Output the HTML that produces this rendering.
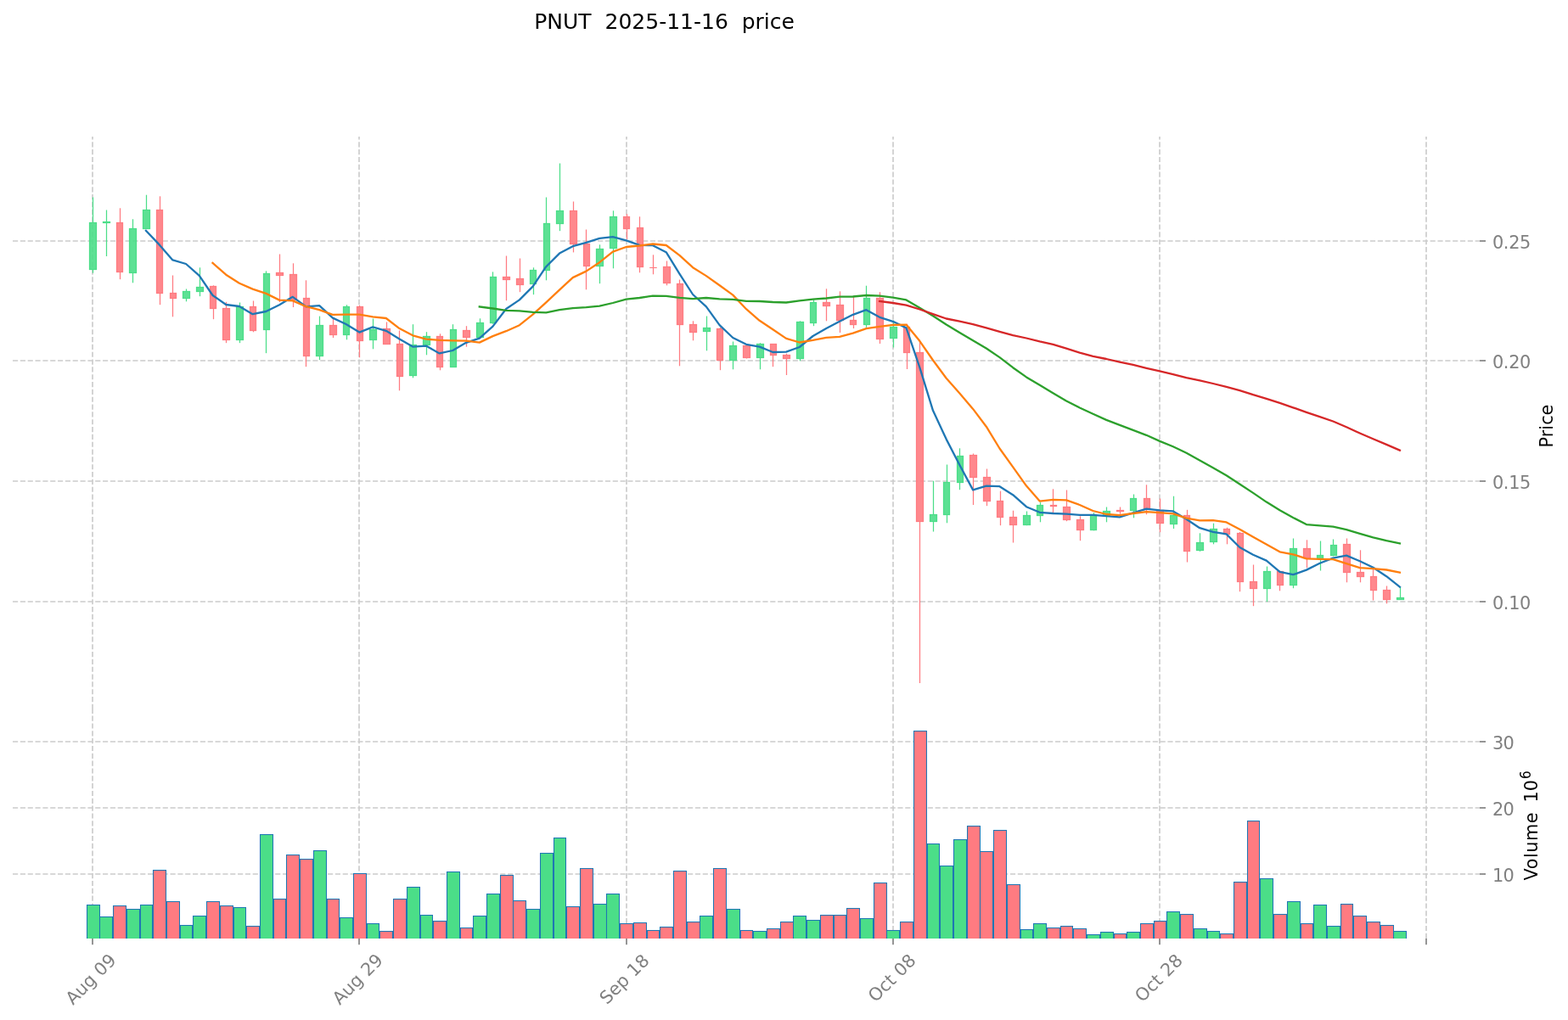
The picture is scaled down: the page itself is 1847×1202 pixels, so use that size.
<!DOCTYPE html>
<html lang="en">
<head>
<meta charset="utf-8">
<title>PNUT 2025-11-16 price</title>
<style>
html,body{margin:0;padding:0;background:#ffffff;}
body{width:1847px;height:1202px;overflow:hidden;font-family:"DejaVu Sans","Liberation Sans",sans-serif;}
svg{display:block;}
text{white-space:pre;}
</style>
</head>
<body>
<svg width="1847" height="1202" viewBox="0 0 1847 1202" font-family="'DejaVu Sans', 'Liberation Sans', sans-serif">
<rect width="1847" height="1202" fill="#ffffff"/>
<defs>
<clipPath id="cm"><rect x="15.0" y="161.0" width="1728.0" height="675.0"/></clipPath>
<clipPath id="cv"><rect x="15.0" y="836.0" width="1728.0" height="269.9000000000001"/></clipPath>
</defs>
<g stroke="#cccccc" stroke-width="1.667" stroke-dasharray="6.167 2.667" fill="none">
<path d="M109 836.0V161.0"/>
<path d="M109 1105.9V836.0"/>
<path d="M423 836.0V161.0"/>
<path d="M423 1105.9V836.0"/>
<path d="M738 836.0V161.0"/>
<path d="M738 1105.9V836.0"/>
<path d="M1052 836.0V161.0"/>
<path d="M1052 1105.9V836.0"/>
<path d="M1366 836.0V161.0"/>
<path d="M1366 1105.9V836.0"/>
<path d="M1680 836.0V161.0"/>
<path d="M1680 1105.9V836.0"/>
<path d="M15.0 284H1743.0"/>
<path d="M15.0 425H1743.0"/>
<path d="M15.0 567H1743.0"/>
<path d="M15.0 709H1743.0"/>
<path d="M15.0 874H1743.0"/>
<path d="M15.0 952H1743.0"/>
<path d="M15.0 1030H1743.0"/>
</g>
<g clip-path="url(#cv)" stroke="#1f77b4" stroke-width="1.04">
<rect x="102.50" y="1066.5" width="15.00" height="43.5" fill="#4bde88"/>
<rect x="117.50" y="1080.5" width="15.00" height="29.5" fill="#4bde88"/>
<rect x="133.50" y="1067.5" width="15.00" height="42.5" fill="#ff7b81"/>
<rect x="149.50" y="1071.5" width="15.00" height="38.5" fill="#4bde88"/>
<rect x="165.50" y="1066.5" width="14.00" height="43.5" fill="#4bde88"/>
<rect x="180.50" y="1025.5" width="15.00" height="84.5" fill="#ff7b81"/>
<rect x="196.50" y="1062.5" width="15.00" height="47.5" fill="#ff7b81"/>
<rect x="212.50" y="1090.5" width="14.00" height="19.5" fill="#4bde88"/>
<rect x="227.50" y="1079.5" width="15.00" height="30.5" fill="#4bde88"/>
<rect x="243.50" y="1062.5" width="15.00" height="47.5" fill="#ff7b81"/>
<rect x="259.50" y="1067.5" width="15.00" height="42.5" fill="#ff7b81"/>
<rect x="275.50" y="1069.5" width="14.00" height="40.5" fill="#4bde88"/>
<rect x="290.50" y="1091.5" width="15.00" height="18.5" fill="#ff7b81"/>
<rect x="306.50" y="983.5" width="15.00" height="126.5" fill="#4bde88"/>
<rect x="322.50" y="1059.5" width="14.00" height="50.5" fill="#ff7b81"/>
<rect x="337.50" y="1007.5" width="15.00" height="102.5" fill="#ff7b81"/>
<rect x="353.50" y="1012.5" width="15.00" height="97.5" fill="#ff7b81"/>
<rect x="369.50" y="1002.5" width="15.00" height="107.5" fill="#4bde88"/>
<rect x="385.50" y="1059.5" width="14.00" height="50.5" fill="#ff7b81"/>
<rect x="400.50" y="1081.5" width="15.00" height="28.5" fill="#4bde88"/>
<rect x="416.50" y="1029.5" width="15.00" height="80.5" fill="#ff7b81"/>
<rect x="432.50" y="1088.5" width="14.00" height="21.5" fill="#4bde88"/>
<rect x="447.50" y="1097.5" width="15.00" height="12.5" fill="#ff7b81"/>
<rect x="463.50" y="1059.5" width="15.00" height="50.5" fill="#ff7b81"/>
<rect x="479.50" y="1045.5" width="15.00" height="64.5" fill="#4bde88"/>
<rect x="495.50" y="1078.5" width="14.00" height="31.5" fill="#4bde88"/>
<rect x="510.50" y="1085.5" width="15.00" height="24.5" fill="#ff7b81"/>
<rect x="526.50" y="1027.5" width="15.00" height="82.5" fill="#4bde88"/>
<rect x="542.50" y="1093.5" width="14.00" height="16.5" fill="#ff7b81"/>
<rect x="557.50" y="1079.5" width="15.00" height="30.5" fill="#4bde88"/>
<rect x="573.50" y="1053.5" width="15.00" height="56.5" fill="#4bde88"/>
<rect x="589.50" y="1031.5" width="15.00" height="78.5" fill="#ff7b81"/>
<rect x="604.50" y="1061.5" width="15.00" height="48.5" fill="#ff7b81"/>
<rect x="620.50" y="1071.5" width="15.00" height="38.5" fill="#4bde88"/>
<rect x="636.50" y="1005.5" width="15.00" height="104.5" fill="#4bde88"/>
<rect x="652.50" y="987.5" width="14.00" height="122.5" fill="#4bde88"/>
<rect x="667.50" y="1068.5" width="15.00" height="41.5" fill="#ff7b81"/>
<rect x="683.50" y="1023.5" width="15.00" height="86.5" fill="#ff7b81"/>
<rect x="699.50" y="1065.5" width="15.00" height="44.5" fill="#4bde88"/>
<rect x="714.50" y="1053.5" width="15.00" height="56.5" fill="#4bde88"/>
<rect x="730.50" y="1088.5" width="15.00" height="21.5" fill="#ff7b81"/>
<rect x="746.50" y="1087.5" width="15.00" height="22.5" fill="#ff7b81"/>
<rect x="762.50" y="1096.5" width="14.00" height="13.5" fill="#ff7b81"/>
<rect x="777.50" y="1092.5" width="15.00" height="17.5" fill="#ff7b81"/>
<rect x="793.50" y="1026.5" width="15.00" height="83.5" fill="#ff7b81"/>
<rect x="809.50" y="1086.5" width="15.00" height="23.5" fill="#ff7b81"/>
<rect x="824.50" y="1079.5" width="15.00" height="30.5" fill="#4bde88"/>
<rect x="840.50" y="1023.5" width="15.00" height="86.5" fill="#ff7b81"/>
<rect x="856.50" y="1071.5" width="15.00" height="38.5" fill="#4bde88"/>
<rect x="872.50" y="1096.5" width="14.00" height="13.5" fill="#ff7b81"/>
<rect x="887.50" y="1097.5" width="15.00" height="12.5" fill="#4bde88"/>
<rect x="903.50" y="1094.5" width="15.00" height="15.5" fill="#ff7b81"/>
<rect x="919.50" y="1086.5" width="15.00" height="23.5" fill="#ff7b81"/>
<rect x="934.50" y="1079.5" width="15.00" height="30.5" fill="#4bde88"/>
<rect x="950.50" y="1084.5" width="15.00" height="25.5" fill="#4bde88"/>
<rect x="966.50" y="1078.5" width="15.00" height="31.5" fill="#ff7b81"/>
<rect x="982.50" y="1078.5" width="14.00" height="31.5" fill="#ff7b81"/>
<rect x="997.50" y="1070.5" width="15.00" height="39.5" fill="#ff7b81"/>
<rect x="1013.50" y="1082.5" width="15.00" height="27.5" fill="#4bde88"/>
<rect x="1029.50" y="1040.5" width="15.00" height="69.5" fill="#ff7b81"/>
<rect x="1044.50" y="1096.5" width="15.00" height="13.5" fill="#4bde88"/>
<rect x="1060.50" y="1086.5" width="15.00" height="23.5" fill="#ff7b81"/>
<rect x="1076.50" y="861.5" width="15.00" height="248.5" fill="#ff7b81"/>
<rect x="1092.50" y="994.5" width="14.00" height="115.5" fill="#4bde88"/>
<rect x="1107.50" y="1020.5" width="15.00" height="89.5" fill="#4bde88"/>
<rect x="1123.50" y="989.5" width="15.00" height="120.5" fill="#4bde88"/>
<rect x="1139.50" y="973.5" width="15.00" height="136.5" fill="#ff7b81"/>
<rect x="1154.50" y="1003.5" width="15.00" height="106.5" fill="#ff7b81"/>
<rect x="1170.50" y="978.5" width="15.00" height="131.5" fill="#ff7b81"/>
<rect x="1186.50" y="1042.5" width="15.00" height="67.5" fill="#ff7b81"/>
<rect x="1202.50" y="1095.5" width="14.00" height="14.5" fill="#4bde88"/>
<rect x="1217.50" y="1088.5" width="15.00" height="21.5" fill="#4bde88"/>
<rect x="1233.50" y="1093.5" width="15.00" height="16.5" fill="#ff7b81"/>
<rect x="1249.50" y="1091.5" width="14.00" height="18.5" fill="#ff7b81"/>
<rect x="1264.50" y="1094.5" width="15.00" height="15.5" fill="#ff7b81"/>
<rect x="1280.50" y="1101.5" width="15.00" height="8.5" fill="#4bde88"/>
<rect x="1296.50" y="1098.5" width="15.00" height="11.5" fill="#4bde88"/>
<rect x="1312.50" y="1100.5" width="14.00" height="9.5" fill="#ff7b81"/>
<rect x="1327.50" y="1098.5" width="15.00" height="11.5" fill="#4bde88"/>
<rect x="1343.50" y="1088.5" width="15.00" height="21.5" fill="#ff7b81"/>
<rect x="1359.50" y="1085.5" width="14.00" height="24.5" fill="#ff7b81"/>
<rect x="1374.50" y="1074.5" width="15.00" height="35.5" fill="#4bde88"/>
<rect x="1390.50" y="1077.5" width="15.00" height="32.5" fill="#ff7b81"/>
<rect x="1406.50" y="1094.5" width="15.00" height="15.5" fill="#4bde88"/>
<rect x="1422.50" y="1097.5" width="14.00" height="12.5" fill="#4bde88"/>
<rect x="1437.50" y="1100.5" width="15.00" height="9.5" fill="#ff7b81"/>
<rect x="1453.50" y="1039.5" width="15.00" height="70.5" fill="#ff7b81"/>
<rect x="1469.50" y="967.5" width="14.00" height="142.5" fill="#ff7b81"/>
<rect x="1484.50" y="1035.5" width="15.00" height="74.5" fill="#4bde88"/>
<rect x="1500.50" y="1077.5" width="15.00" height="32.5" fill="#ff7b81"/>
<rect x="1516.50" y="1062.5" width="15.00" height="47.5" fill="#4bde88"/>
<rect x="1532.50" y="1088.5" width="14.00" height="21.5" fill="#ff7b81"/>
<rect x="1547.50" y="1066.5" width="15.00" height="43.5" fill="#4bde88"/>
<rect x="1563.50" y="1091.5" width="15.00" height="18.5" fill="#4bde88"/>
<rect x="1579.50" y="1065.5" width="14.00" height="44.5" fill="#ff7b81"/>
<rect x="1594.50" y="1079.5" width="15.00" height="30.5" fill="#ff7b81"/>
<rect x="1610.50" y="1086.5" width="15.00" height="23.5" fill="#ff7b81"/>
<rect x="1626.50" y="1090.5" width="15.00" height="19.5" fill="#ff7b81"/>
<rect x="1641.50" y="1097.5" width="15.00" height="12.5" fill="#4bde88"/>
</g>
<g stroke-width="1.25" fill="none">
<path d="M109.50 232.5V262.50" stroke="#4bde88"/>
<path d="M109.50 317.50V321.7" stroke="#4bde88"/>
<path d="M125.50 247.5V261.50" stroke="#4bde88"/>
<path d="M125.50 262.50V302.0" stroke="#4bde88"/>
<path d="M141.50 245.3V262.50" stroke="#ff7b81"/>
<path d="M141.50 320.50V329.2" stroke="#ff7b81"/>
<path d="M156.50 258.3V269.50" stroke="#4bde88"/>
<path d="M156.50 321.50V333.3" stroke="#4bde88"/>
<path d="M172.50 229.7V247.50" stroke="#4bde88"/>
<path d="M188.50 231.3V247.50" stroke="#ff7b81"/>
<path d="M188.50 345.50V359.2" stroke="#ff7b81"/>
<path d="M203.50 324.5V345.50" stroke="#ff7b81"/>
<path d="M203.50 351.50V373.3" stroke="#ff7b81"/>
<path d="M219.50 340.5V343.50" stroke="#4bde88"/>
<path d="M219.50 351.50V355.3" stroke="#4bde88"/>
<path d="M235.50 315.3V338.50" stroke="#4bde88"/>
<path d="M235.50 343.50V349.2" stroke="#4bde88"/>
<path d="M251.50 336.3V337.50" stroke="#ff7b81"/>
<path d="M251.50 363.50V376.2" stroke="#ff7b81"/>
<path d="M266.50 355.8V363.50" stroke="#ff7b81"/>
<path d="M266.50 400.50V404.2" stroke="#ff7b81"/>
<path d="M282.50 356.5V361.50" stroke="#4bde88"/>
<path d="M282.50 400.50V404.2" stroke="#4bde88"/>
<path d="M298.50 354.5V361.50" stroke="#ff7b81"/>
<path d="M298.50 389.50V391.3" stroke="#ff7b81"/>
<path d="M313.50 319.4V322.50" stroke="#4bde88"/>
<path d="M313.50 388.50V416.2" stroke="#4bde88"/>
<path d="M329.50 299.5V321.50" stroke="#ff7b81"/>
<path d="M329.50 324.50V356.0" stroke="#ff7b81"/>
<path d="M345.50 310.3V323.50" stroke="#ff7b81"/>
<path d="M345.50 353.50V362.0" stroke="#ff7b81"/>
<path d="M360.50 330.3V351.50" stroke="#ff7b81"/>
<path d="M360.50 419.50V432.2" stroke="#ff7b81"/>
<path d="M376.50 372.6V383.50" stroke="#4bde88"/>
<path d="M376.50 419.50V424.2" stroke="#4bde88"/>
<path d="M392.50 375.4V383.50" stroke="#ff7b81"/>
<path d="M392.50 394.50V398.1" stroke="#ff7b81"/>
<path d="M408.50 359.3V361.50" stroke="#4bde88"/>
<path d="M408.50 394.50V400.3" stroke="#4bde88"/>
<path d="M423.50 359.7V361.50" stroke="#ff7b81"/>
<path d="M423.50 401.50V421.3" stroke="#ff7b81"/>
<path d="M439.50 375.5V388.50" stroke="#4bde88"/>
<path d="M439.50 400.50V411.3" stroke="#4bde88"/>
<path d="M455.50 379.5V387.50" stroke="#ff7b81"/>
<path d="M470.50 389.5V405.50" stroke="#ff7b81"/>
<path d="M470.50 443.50V460.3" stroke="#ff7b81"/>
<path d="M486.50 382.2V406.50" stroke="#4bde88"/>
<path d="M486.50 442.50V445.3" stroke="#4bde88"/>
<path d="M502.50 391.2V396.50" stroke="#4bde88"/>
<path d="M502.50 406.50V418.3" stroke="#4bde88"/>
<path d="M518.50 393.3V396.50" stroke="#ff7b81"/>
<path d="M518.50 432.50V436.3" stroke="#ff7b81"/>
<path d="M533.50 382.2V388.50" stroke="#4bde88"/>
<path d="M549.50 384.2V389.50" stroke="#ff7b81"/>
<path d="M549.50 397.50V408.7" stroke="#ff7b81"/>
<path d="M565.50 375.3V380.50" stroke="#4bde88"/>
<path d="M565.50 397.50V398.3" stroke="#4bde88"/>
<path d="M580.50 320.4V326.50" stroke="#4bde88"/>
<path d="M580.50 380.50V381.7" stroke="#4bde88"/>
<path d="M596.50 301.5V326.50" stroke="#ff7b81"/>
<path d="M596.50 329.50V354.2" stroke="#ff7b81"/>
<path d="M612.50 304.5V328.50" stroke="#ff7b81"/>
<path d="M612.50 335.50V344.2" stroke="#ff7b81"/>
<path d="M628.50 315.3V318.50" stroke="#4bde88"/>
<path d="M628.50 334.50V347.2" stroke="#4bde88"/>
<path d="M643.50 232.5V263.50" stroke="#4bde88"/>
<path d="M643.50 318.50V330.3" stroke="#4bde88"/>
<path d="M659.50 192.5V248.50" stroke="#4bde88"/>
<path d="M659.50 263.50V272.2" stroke="#4bde88"/>
<path d="M675.50 237.5V248.50" stroke="#ff7b81"/>
<path d="M675.50 287.50V297.4" stroke="#ff7b81"/>
<path d="M690.50 270.5V287.50" stroke="#ff7b81"/>
<path d="M690.50 313.50V341.3" stroke="#ff7b81"/>
<path d="M706.50 288.3V293.50" stroke="#4bde88"/>
<path d="M706.50 313.50V334.2" stroke="#4bde88"/>
<path d="M722.50 248.3V255.50" stroke="#4bde88"/>
<path d="M722.50 292.50V316.3" stroke="#4bde88"/>
<path d="M738.50 252.2V255.50" stroke="#ff7b81"/>
<path d="M738.50 269.50V282.0" stroke="#ff7b81"/>
<path d="M753.50 255.3V268.50" stroke="#ff7b81"/>
<path d="M753.50 314.50V321.3" stroke="#ff7b81"/>
<path d="M769.50 300.3V315.50" stroke="#ff7b81"/>
<path d="M769.50 315.50V323.3" stroke="#ff7b81"/>
<path d="M785.50 307.5V314.50" stroke="#ff7b81"/>
<path d="M785.50 333.50V336.3" stroke="#ff7b81"/>
<path d="M800.50 329.6V334.50" stroke="#ff7b81"/>
<path d="M800.50 382.50V431.3" stroke="#ff7b81"/>
<path d="M816.50 378.3V382.50" stroke="#ff7b81"/>
<path d="M816.50 391.50V401.3" stroke="#ff7b81"/>
<path d="M832.50 372.5V386.50" stroke="#4bde88"/>
<path d="M832.50 390.50V413.3" stroke="#4bde88"/>
<path d="M848.50 386.0V387.50" stroke="#ff7b81"/>
<path d="M848.50 424.50V436.2" stroke="#ff7b81"/>
<path d="M863.50 402.5V407.50" stroke="#4bde88"/>
<path d="M863.50 424.50V435.3" stroke="#4bde88"/>
<path d="M879.50 421.50V422.5" stroke="#ff7b81"/>
<path d="M895.50 404.2V405.50" stroke="#4bde88"/>
<path d="M895.50 421.50V435.3" stroke="#4bde88"/>
<path d="M910.50 418.50V432.2" stroke="#ff7b81"/>
<path d="M926.50 416.7V418.50" stroke="#ff7b81"/>
<path d="M926.50 422.50V442.0" stroke="#ff7b81"/>
<path d="M942.50 378.3V379.50" stroke="#4bde88"/>
<path d="M942.50 422.50V425.3" stroke="#4bde88"/>
<path d="M958.50 353.3V356.50" stroke="#4bde88"/>
<path d="M958.50 380.50V384.2" stroke="#4bde88"/>
<path d="M973.50 340.3V356.50" stroke="#ff7b81"/>
<path d="M973.50 360.50V378.3" stroke="#ff7b81"/>
<path d="M989.50 343.3V359.50" stroke="#ff7b81"/>
<path d="M989.50 377.50V392.0" stroke="#ff7b81"/>
<path d="M1005.50 350.0V377.50" stroke="#ff7b81"/>
<path d="M1005.50 382.50V387.0" stroke="#ff7b81"/>
<path d="M1020.50 336.7V351.50" stroke="#4bde88"/>
<path d="M1020.50 382.50V385.8" stroke="#4bde88"/>
<path d="M1036.50 344.2V351.50" stroke="#ff7b81"/>
<path d="M1036.50 399.50V405.0" stroke="#ff7b81"/>
<path d="M1052.50 377.5V385.50" stroke="#4bde88"/>
<path d="M1052.50 398.50V409.5" stroke="#4bde88"/>
<path d="M1068.50 381.7V385.50" stroke="#ff7b81"/>
<path d="M1068.50 415.50V435.0" stroke="#ff7b81"/>
<path d="M1083.50 403.3V415.50" stroke="#ff7b81"/>
<path d="M1083.50 614.50V805.0" stroke="#ff7b81"/>
<path d="M1099.50 566.7V606.50" stroke="#4bde88"/>
<path d="M1099.50 614.50V626.5" stroke="#4bde88"/>
<path d="M1115.50 547.5V568.50" stroke="#4bde88"/>
<path d="M1115.50 606.50V616.3" stroke="#4bde88"/>
<path d="M1130.50 528.3V537.50" stroke="#4bde88"/>
<path d="M1130.50 568.50V577.2" stroke="#4bde88"/>
<path d="M1146.50 534.5V536.50" stroke="#ff7b81"/>
<path d="M1146.50 562.50V595.0" stroke="#ff7b81"/>
<path d="M1162.50 552.5V562.50" stroke="#ff7b81"/>
<path d="M1162.50 590.50V596.2" stroke="#ff7b81"/>
<path d="M1178.50 578.7V590.50" stroke="#ff7b81"/>
<path d="M1178.50 609.50V619.2" stroke="#ff7b81"/>
<path d="M1193.50 601.7V609.50" stroke="#ff7b81"/>
<path d="M1193.50 618.50V639.5" stroke="#ff7b81"/>
<path d="M1209.50 602.5V607.50" stroke="#4bde88"/>
<path d="M1209.50 618.50V619.2" stroke="#4bde88"/>
<path d="M1225.50 592.0V595.50" stroke="#4bde88"/>
<path d="M1225.50 607.50V615.3" stroke="#4bde88"/>
<path d="M1240.50 576.3V595.50" stroke="#ff7b81"/>
<path d="M1240.50 596.50V604.2" stroke="#ff7b81"/>
<path d="M1256.50 577.5V597.50" stroke="#ff7b81"/>
<path d="M1256.50 612.50V614.2" stroke="#ff7b81"/>
<path d="M1272.50 608.3V612.50" stroke="#ff7b81"/>
<path d="M1272.50 624.50V637.2" stroke="#ff7b81"/>
<path d="M1288.50 604.2V607.50" stroke="#4bde88"/>
<path d="M1288.50 624.50V625.3" stroke="#4bde88"/>
<path d="M1303.50 597.5V602.50" stroke="#4bde88"/>
<path d="M1303.50 607.50V615.3" stroke="#4bde88"/>
<path d="M1319.50 597.5V601.50" stroke="#ff7b81"/>
<path d="M1319.50 602.50V605.8" stroke="#ff7b81"/>
<path d="M1335.50 582.5V587.50" stroke="#4bde88"/>
<path d="M1335.50 601.50V610.3" stroke="#4bde88"/>
<path d="M1350.50 571.3V587.50" stroke="#ff7b81"/>
<path d="M1350.50 600.50V606.3" stroke="#ff7b81"/>
<path d="M1366.50 587.5V601.50" stroke="#ff7b81"/>
<path d="M1366.50 616.50V627.2" stroke="#ff7b81"/>
<path d="M1382.50 584.7V607.50" stroke="#4bde88"/>
<path d="M1382.50 617.50V623.0" stroke="#4bde88"/>
<path d="M1398.50 600.8V607.50" stroke="#ff7b81"/>
<path d="M1398.50 649.50V662.5" stroke="#ff7b81"/>
<path d="M1413.50 628.3V639.50" stroke="#4bde88"/>
<path d="M1413.50 648.50V649.8" stroke="#4bde88"/>
<path d="M1429.50 616.7V623.50" stroke="#4bde88"/>
<path d="M1429.50 638.50V641.3" stroke="#4bde88"/>
<path d="M1445.50 621.7V623.50" stroke="#ff7b81"/>
<path d="M1445.50 629.50V641.3" stroke="#ff7b81"/>
<path d="M1460.50 627.0V628.50" stroke="#ff7b81"/>
<path d="M1460.50 685.50V697.2" stroke="#ff7b81"/>
<path d="M1476.50 665.5V685.50" stroke="#ff7b81"/>
<path d="M1476.50 693.50V714.2" stroke="#ff7b81"/>
<path d="M1492.50 667.5V673.50" stroke="#4bde88"/>
<path d="M1492.50 693.50V709.2" stroke="#4bde88"/>
<path d="M1507.50 672.5V673.50" stroke="#ff7b81"/>
<path d="M1507.50 689.50V696.3" stroke="#ff7b81"/>
<path d="M1523.50 634.5V646.50" stroke="#4bde88"/>
<path d="M1523.50 689.50V693.2" stroke="#4bde88"/>
<path d="M1539.50 636.3V646.50" stroke="#ff7b81"/>
<path d="M1539.50 657.50V669.2" stroke="#ff7b81"/>
<path d="M1555.50 637.5V654.50" stroke="#4bde88"/>
<path d="M1555.50 658.50V672.5" stroke="#4bde88"/>
<path d="M1570.50 635.5V642.50" stroke="#4bde88"/>
<path d="M1570.50 654.50V655.5" stroke="#4bde88"/>
<path d="M1586.50 634.5V641.50" stroke="#ff7b81"/>
<path d="M1586.50 674.50V686.3" stroke="#ff7b81"/>
<path d="M1602.50 648.3V674.50" stroke="#ff7b81"/>
<path d="M1602.50 679.50V686.3" stroke="#ff7b81"/>
<path d="M1617.50 668.3V679.50" stroke="#ff7b81"/>
<path d="M1617.50 695.50V707.5" stroke="#ff7b81"/>
<path d="M1633.50 690.5V695.50" stroke="#ff7b81"/>
<path d="M1633.50 706.50V711.3" stroke="#ff7b81"/>
<path d="M1649.50 691.7V704.50" stroke="#4bde88"/>
</g>
<g>
<rect x="105.50" y="262.50" width="8.00" height="55.00" fill="#4bde88" fill-opacity="0.9" stroke="#4bde88" stroke-width="1.25"/>
<rect x="121.50" y="261.50" width="8.00" height="1.00" fill="#4bde88" fill-opacity="0.9" stroke="#4bde88" stroke-width="1.25"/>
<rect x="137.50" y="262.50" width="7.00" height="58.00" fill="#ff7b81" fill-opacity="0.9" stroke="#ff7b81" stroke-width="1.25"/>
<rect x="152.50" y="269.50" width="8.00" height="52.00" fill="#4bde88" fill-opacity="0.9" stroke="#4bde88" stroke-width="1.25"/>
<rect x="168.50" y="247.50" width="8.00" height="22.00" fill="#4bde88" fill-opacity="0.9" stroke="#4bde88" stroke-width="1.25"/>
<rect x="184.50" y="247.50" width="7.00" height="98.00" fill="#ff7b81" fill-opacity="0.9" stroke="#ff7b81" stroke-width="1.25"/>
<rect x="200.50" y="345.50" width="7.00" height="6.00" fill="#ff7b81" fill-opacity="0.9" stroke="#ff7b81" stroke-width="1.25"/>
<rect x="215.50" y="343.50" width="8.00" height="8.00" fill="#4bde88" fill-opacity="0.9" stroke="#4bde88" stroke-width="1.25"/>
<rect x="231.50" y="338.50" width="8.00" height="5.00" fill="#4bde88" fill-opacity="0.9" stroke="#4bde88" stroke-width="1.25"/>
<rect x="247.50" y="337.50" width="7.00" height="26.00" fill="#ff7b81" fill-opacity="0.9" stroke="#ff7b81" stroke-width="1.25"/>
<rect x="262.50" y="363.50" width="8.00" height="37.00" fill="#ff7b81" fill-opacity="0.9" stroke="#ff7b81" stroke-width="1.25"/>
<rect x="278.50" y="361.50" width="8.00" height="39.00" fill="#4bde88" fill-opacity="0.9" stroke="#4bde88" stroke-width="1.25"/>
<rect x="294.50" y="361.50" width="7.00" height="28.00" fill="#ff7b81" fill-opacity="0.9" stroke="#ff7b81" stroke-width="1.25"/>
<rect x="310.50" y="322.50" width="7.00" height="66.00" fill="#4bde88" fill-opacity="0.9" stroke="#4bde88" stroke-width="1.25"/>
<rect x="325.50" y="321.50" width="8.00" height="3.00" fill="#ff7b81" fill-opacity="0.9" stroke="#ff7b81" stroke-width="1.25"/>
<rect x="341.50" y="323.50" width="8.00" height="30.00" fill="#ff7b81" fill-opacity="0.9" stroke="#ff7b81" stroke-width="1.25"/>
<rect x="357.50" y="351.50" width="7.00" height="68.00" fill="#ff7b81" fill-opacity="0.9" stroke="#ff7b81" stroke-width="1.25"/>
<rect x="372.50" y="383.50" width="8.00" height="36.00" fill="#4bde88" fill-opacity="0.9" stroke="#4bde88" stroke-width="1.25"/>
<rect x="388.50" y="383.50" width="8.00" height="11.00" fill="#ff7b81" fill-opacity="0.9" stroke="#ff7b81" stroke-width="1.25"/>
<rect x="404.50" y="361.50" width="7.00" height="33.00" fill="#4bde88" fill-opacity="0.9" stroke="#4bde88" stroke-width="1.25"/>
<rect x="420.50" y="361.50" width="7.00" height="40.00" fill="#ff7b81" fill-opacity="0.9" stroke="#ff7b81" stroke-width="1.25"/>
<rect x="435.50" y="388.50" width="8.00" height="12.00" fill="#4bde88" fill-opacity="0.9" stroke="#4bde88" stroke-width="1.25"/>
<rect x="451.50" y="387.50" width="8.00" height="18.00" fill="#ff7b81" fill-opacity="0.9" stroke="#ff7b81" stroke-width="1.25"/>
<rect x="467.50" y="405.50" width="7.00" height="38.00" fill="#ff7b81" fill-opacity="0.9" stroke="#ff7b81" stroke-width="1.25"/>
<rect x="482.50" y="406.50" width="8.00" height="36.00" fill="#4bde88" fill-opacity="0.9" stroke="#4bde88" stroke-width="1.25"/>
<rect x="498.50" y="396.50" width="8.00" height="10.00" fill="#4bde88" fill-opacity="0.9" stroke="#4bde88" stroke-width="1.25"/>
<rect x="514.50" y="396.50" width="7.00" height="36.00" fill="#ff7b81" fill-opacity="0.9" stroke="#ff7b81" stroke-width="1.25"/>
<rect x="530.50" y="388.50" width="7.00" height="44.00" fill="#4bde88" fill-opacity="0.9" stroke="#4bde88" stroke-width="1.25"/>
<rect x="545.50" y="389.50" width="8.00" height="8.00" fill="#ff7b81" fill-opacity="0.9" stroke="#ff7b81" stroke-width="1.25"/>
<rect x="561.50" y="380.50" width="8.00" height="17.00" fill="#4bde88" fill-opacity="0.9" stroke="#4bde88" stroke-width="1.25"/>
<rect x="577.50" y="326.50" width="7.00" height="54.00" fill="#4bde88" fill-opacity="0.9" stroke="#4bde88" stroke-width="1.25"/>
<rect x="592.50" y="326.50" width="8.00" height="3.00" fill="#ff7b81" fill-opacity="0.9" stroke="#ff7b81" stroke-width="1.25"/>
<rect x="608.50" y="328.50" width="8.00" height="7.00" fill="#ff7b81" fill-opacity="0.9" stroke="#ff7b81" stroke-width="1.25"/>
<rect x="624.50" y="318.50" width="7.00" height="16.00" fill="#4bde88" fill-opacity="0.9" stroke="#4bde88" stroke-width="1.25"/>
<rect x="640.50" y="263.50" width="7.00" height="55.00" fill="#4bde88" fill-opacity="0.9" stroke="#4bde88" stroke-width="1.25"/>
<rect x="655.50" y="248.50" width="8.00" height="15.00" fill="#4bde88" fill-opacity="0.9" stroke="#4bde88" stroke-width="1.25"/>
<rect x="671.50" y="248.50" width="8.00" height="39.00" fill="#ff7b81" fill-opacity="0.9" stroke="#ff7b81" stroke-width="1.25"/>
<rect x="687.50" y="287.50" width="7.00" height="26.00" fill="#ff7b81" fill-opacity="0.9" stroke="#ff7b81" stroke-width="1.25"/>
<rect x="702.50" y="293.50" width="8.00" height="20.00" fill="#4bde88" fill-opacity="0.9" stroke="#4bde88" stroke-width="1.25"/>
<rect x="718.50" y="255.50" width="8.00" height="37.00" fill="#4bde88" fill-opacity="0.9" stroke="#4bde88" stroke-width="1.25"/>
<rect x="734.50" y="255.50" width="7.00" height="14.00" fill="#ff7b81" fill-opacity="0.9" stroke="#ff7b81" stroke-width="1.25"/>
<rect x="750.50" y="268.50" width="7.00" height="46.00" fill="#ff7b81" fill-opacity="0.9" stroke="#ff7b81" stroke-width="1.25"/>
<path d="M765.20 315.50H773.80" stroke="#ff7b81" stroke-width="1.1" fill="none"/>
<rect x="781.50" y="314.50" width="8.00" height="19.00" fill="#ff7b81" fill-opacity="0.9" stroke="#ff7b81" stroke-width="1.25"/>
<rect x="797.50" y="334.50" width="7.00" height="48.00" fill="#ff7b81" fill-opacity="0.9" stroke="#ff7b81" stroke-width="1.25"/>
<rect x="812.50" y="382.50" width="8.00" height="9.00" fill="#ff7b81" fill-opacity="0.9" stroke="#ff7b81" stroke-width="1.25"/>
<rect x="828.50" y="386.50" width="8.00" height="4.00" fill="#4bde88" fill-opacity="0.9" stroke="#4bde88" stroke-width="1.25"/>
<rect x="844.50" y="387.50" width="7.00" height="37.00" fill="#ff7b81" fill-opacity="0.9" stroke="#ff7b81" stroke-width="1.25"/>
<rect x="859.50" y="407.50" width="8.00" height="17.00" fill="#4bde88" fill-opacity="0.9" stroke="#4bde88" stroke-width="1.25"/>
<rect x="875.50" y="407.50" width="8.00" height="14.00" fill="#ff7b81" fill-opacity="0.9" stroke="#ff7b81" stroke-width="1.25"/>
<rect x="891.50" y="405.50" width="8.00" height="16.00" fill="#4bde88" fill-opacity="0.9" stroke="#4bde88" stroke-width="1.25"/>
<rect x="907.50" y="405.50" width="7.00" height="13.00" fill="#ff7b81" fill-opacity="0.9" stroke="#ff7b81" stroke-width="1.25"/>
<rect x="922.50" y="418.50" width="8.00" height="4.00" fill="#ff7b81" fill-opacity="0.9" stroke="#ff7b81" stroke-width="1.25"/>
<rect x="938.50" y="379.50" width="8.00" height="43.00" fill="#4bde88" fill-opacity="0.9" stroke="#4bde88" stroke-width="1.25"/>
<rect x="954.50" y="356.50" width="7.00" height="24.00" fill="#4bde88" fill-opacity="0.9" stroke="#4bde88" stroke-width="1.25"/>
<rect x="969.50" y="356.50" width="8.00" height="4.00" fill="#ff7b81" fill-opacity="0.9" stroke="#ff7b81" stroke-width="1.25"/>
<rect x="985.50" y="359.50" width="8.00" height="18.00" fill="#ff7b81" fill-opacity="0.9" stroke="#ff7b81" stroke-width="1.25"/>
<rect x="1001.50" y="377.50" width="7.00" height="5.00" fill="#ff7b81" fill-opacity="0.9" stroke="#ff7b81" stroke-width="1.25"/>
<rect x="1017.50" y="351.50" width="7.00" height="31.00" fill="#4bde88" fill-opacity="0.9" stroke="#4bde88" stroke-width="1.25"/>
<rect x="1032.50" y="351.50" width="8.00" height="48.00" fill="#ff7b81" fill-opacity="0.9" stroke="#ff7b81" stroke-width="1.25"/>
<rect x="1048.50" y="385.50" width="8.00" height="13.00" fill="#4bde88" fill-opacity="0.9" stroke="#4bde88" stroke-width="1.25"/>
<rect x="1064.50" y="385.50" width="7.00" height="30.00" fill="#ff7b81" fill-opacity="0.9" stroke="#ff7b81" stroke-width="1.25"/>
<rect x="1079.50" y="415.50" width="8.00" height="199.00" fill="#ff7b81" fill-opacity="0.9" stroke="#ff7b81" stroke-width="1.25"/>
<rect x="1095.50" y="606.50" width="8.00" height="8.00" fill="#4bde88" fill-opacity="0.9" stroke="#4bde88" stroke-width="1.25"/>
<rect x="1111.50" y="568.50" width="7.00" height="38.00" fill="#4bde88" fill-opacity="0.9" stroke="#4bde88" stroke-width="1.25"/>
<rect x="1127.50" y="537.50" width="7.00" height="31.00" fill="#4bde88" fill-opacity="0.9" stroke="#4bde88" stroke-width="1.25"/>
<rect x="1142.50" y="536.50" width="8.00" height="26.00" fill="#ff7b81" fill-opacity="0.9" stroke="#ff7b81" stroke-width="1.25"/>
<rect x="1158.50" y="562.50" width="8.00" height="28.00" fill="#ff7b81" fill-opacity="0.9" stroke="#ff7b81" stroke-width="1.25"/>
<rect x="1174.50" y="590.50" width="7.00" height="19.00" fill="#ff7b81" fill-opacity="0.9" stroke="#ff7b81" stroke-width="1.25"/>
<rect x="1189.50" y="609.50" width="8.00" height="9.00" fill="#ff7b81" fill-opacity="0.9" stroke="#ff7b81" stroke-width="1.25"/>
<rect x="1205.50" y="607.50" width="8.00" height="11.00" fill="#4bde88" fill-opacity="0.9" stroke="#4bde88" stroke-width="1.25"/>
<rect x="1221.50" y="595.50" width="7.00" height="12.00" fill="#4bde88" fill-opacity="0.9" stroke="#4bde88" stroke-width="1.25"/>
<rect x="1237.50" y="595.50" width="7.00" height="1.00" fill="#ff7b81" fill-opacity="0.9" stroke="#ff7b81" stroke-width="1.25"/>
<rect x="1252.50" y="597.50" width="8.00" height="15.00" fill="#ff7b81" fill-opacity="0.9" stroke="#ff7b81" stroke-width="1.25"/>
<rect x="1268.50" y="612.50" width="8.00" height="12.00" fill="#ff7b81" fill-opacity="0.9" stroke="#ff7b81" stroke-width="1.25"/>
<rect x="1284.50" y="607.50" width="7.00" height="17.00" fill="#4bde88" fill-opacity="0.9" stroke="#4bde88" stroke-width="1.25"/>
<rect x="1299.50" y="602.50" width="8.00" height="5.00" fill="#4bde88" fill-opacity="0.9" stroke="#4bde88" stroke-width="1.25"/>
<rect x="1315.50" y="601.50" width="8.00" height="1.00" fill="#ff7b81" fill-opacity="0.9" stroke="#ff7b81" stroke-width="1.25"/>
<rect x="1331.50" y="587.50" width="7.00" height="14.00" fill="#4bde88" fill-opacity="0.9" stroke="#4bde88" stroke-width="1.25"/>
<rect x="1347.50" y="587.50" width="7.00" height="13.00" fill="#ff7b81" fill-opacity="0.9" stroke="#ff7b81" stroke-width="1.25"/>
<rect x="1362.50" y="601.50" width="8.00" height="15.00" fill="#ff7b81" fill-opacity="0.9" stroke="#ff7b81" stroke-width="1.25"/>
<rect x="1378.50" y="607.50" width="8.00" height="10.00" fill="#4bde88" fill-opacity="0.9" stroke="#4bde88" stroke-width="1.25"/>
<rect x="1394.50" y="607.50" width="7.00" height="42.00" fill="#ff7b81" fill-opacity="0.9" stroke="#ff7b81" stroke-width="1.25"/>
<rect x="1409.50" y="639.50" width="8.00" height="9.00" fill="#4bde88" fill-opacity="0.9" stroke="#4bde88" stroke-width="1.25"/>
<rect x="1425.50" y="623.50" width="8.00" height="15.00" fill="#4bde88" fill-opacity="0.9" stroke="#4bde88" stroke-width="1.25"/>
<rect x="1441.50" y="623.50" width="7.00" height="6.00" fill="#ff7b81" fill-opacity="0.9" stroke="#ff7b81" stroke-width="1.25"/>
<rect x="1457.50" y="628.50" width="7.00" height="57.00" fill="#ff7b81" fill-opacity="0.9" stroke="#ff7b81" stroke-width="1.25"/>
<rect x="1472.50" y="685.50" width="8.00" height="8.00" fill="#ff7b81" fill-opacity="0.9" stroke="#ff7b81" stroke-width="1.25"/>
<rect x="1488.50" y="673.50" width="8.00" height="20.00" fill="#4bde88" fill-opacity="0.9" stroke="#4bde88" stroke-width="1.25"/>
<rect x="1504.50" y="673.50" width="7.00" height="16.00" fill="#ff7b81" fill-opacity="0.9" stroke="#ff7b81" stroke-width="1.25"/>
<rect x="1519.50" y="646.50" width="8.00" height="43.00" fill="#4bde88" fill-opacity="0.9" stroke="#4bde88" stroke-width="1.25"/>
<rect x="1535.50" y="646.50" width="8.00" height="11.00" fill="#ff7b81" fill-opacity="0.9" stroke="#ff7b81" stroke-width="1.25"/>
<rect x="1551.50" y="654.50" width="7.00" height="4.00" fill="#4bde88" fill-opacity="0.9" stroke="#4bde88" stroke-width="1.25"/>
<rect x="1567.50" y="642.50" width="7.00" height="12.00" fill="#4bde88" fill-opacity="0.9" stroke="#4bde88" stroke-width="1.25"/>
<rect x="1582.50" y="641.50" width="8.00" height="33.00" fill="#ff7b81" fill-opacity="0.9" stroke="#ff7b81" stroke-width="1.25"/>
<rect x="1598.50" y="674.50" width="8.00" height="5.00" fill="#ff7b81" fill-opacity="0.9" stroke="#ff7b81" stroke-width="1.25"/>
<rect x="1614.50" y="679.50" width="7.00" height="16.00" fill="#ff7b81" fill-opacity="0.9" stroke="#ff7b81" stroke-width="1.25"/>
<rect x="1629.50" y="695.50" width="8.00" height="11.00" fill="#ff7b81" fill-opacity="0.9" stroke="#ff7b81" stroke-width="1.25"/>
<rect x="1645.50" y="704.50" width="8.00" height="2.00" fill="#4bde88" fill-opacity="0.9" stroke="#4bde88" stroke-width="1.25"/>
</g>
<path d="M171.9 271.8 L187.7 288.4 L203.4 306.4 L219.1 311.0 L234.8 324.8 L250.5 348.0 L266.2 359.0 L281.9 361.0 L297.6 370.2 L313.4 367.0 L329.1 359.2 L344.8 349.8 L360.5 361.4 L376.2 360.2 L391.9 374.6 L407.6 382.0 L423.3 391.6 L439.1 385.4 L454.8 389.8 L470.5 399.6 L486.2 408.6 L501.9 407.6 L517.6 416.4 L533.3 413.0 L549.0 403.8 L564.8 398.6 L580.5 384.6 L596.2 364.0 L611.9 353.4 L627.6 337.6 L643.3 314.2 L659.0 298.6 L674.7 290.2 L690.5 285.8 L706.2 280.8 L721.9 279.2 L737.6 283.4 L753.3 288.8 L769.0 289.2 L784.7 297.2 L800.4 322.6 L816.1 347.0 L831.9 361.4 L847.6 383.2 L863.3 398.0 L879.0 405.8 L894.7 408.6 L910.4 415.0 L926.1 414.6 L941.8 409.0 L957.6 396.0 L973.3 387.0 L989.0 378.8 L1004.7 370.8 L1020.4 365.2 L1036.1 373.8 L1051.8 378.8 L1067.5 386.4 L1083.3 432.8 L1099.0 483.8 L1114.7 517.6 L1130.4 548.0 L1146.1 577.4 L1161.8 572.6 L1177.5 573.2 L1193.2 583.2 L1209.0 597.2 L1224.7 603.8 L1240.4 605.0 L1256.1 605.6 L1271.8 606.8 L1287.5 606.8 L1303.2 608.2 L1318.9 609.4 L1334.7 604.4 L1350.4 599.6 L1366.1 601.4 L1381.8 602.4 L1397.5 611.8 L1413.2 622.2 L1428.9 626.8 L1444.6 629.4 L1460.3 645.0 L1476.1 653.8 L1491.8 660.6 L1507.5 673.8 L1523.2 677.2 L1538.9 671.6 L1554.6 663.8 L1570.3 657.6 L1586.0 654.6 L1601.8 661.2 L1617.5 668.8 L1633.2 679.2 L1648.9 691.6" fill="none" stroke="#1f77b4" stroke-width="2.3" stroke-linejoin="round" stroke-linecap="square"/>
<path d="M250.5 309.9 L266.2 323.7 L281.9 333.7 L297.6 340.6 L313.4 345.9 L329.1 353.6 L344.8 354.4 L360.5 361.2 L376.2 365.2 L391.9 370.8 L407.6 370.6 L423.3 370.7 L439.1 373.4 L454.8 375.0 L470.5 387.1 L486.2 395.3 L501.9 399.6 L517.6 400.9 L533.3 401.4 L549.0 401.7 L564.8 403.6 L580.5 396.1 L596.2 390.2 L611.9 383.2 L627.6 370.7 L643.3 356.4 L659.0 341.6 L674.7 327.1 L690.5 319.6 L706.2 309.2 L721.9 296.7 L737.6 291.0 L753.3 289.5 L769.0 287.5 L784.7 289.0 L800.4 300.9 L816.1 315.2 L831.9 325.1 L847.6 336.2 L863.3 347.6 L879.0 364.2 L894.7 377.8 L910.4 388.2 L926.1 398.9 L941.8 403.5 L957.6 400.9 L973.3 397.8 L989.0 396.9 L1004.7 392.7 L1020.4 387.1 L1036.1 384.9 L1051.8 382.9 L1067.5 382.6 L1083.3 401.8 L1099.0 424.5 L1114.7 445.7 L1130.4 463.4 L1146.1 481.9 L1161.8 502.7 L1177.5 528.5 L1193.2 550.4 L1209.0 572.6 L1224.7 590.6 L1240.4 588.8 L1256.1 589.4 L1271.8 595.0 L1287.5 602.0 L1303.2 606.0 L1318.9 607.2 L1334.7 605.0 L1350.4 603.2 L1366.1 604.1 L1381.8 605.3 L1397.5 610.6 L1413.2 613.3 L1428.9 613.2 L1444.6 615.4 L1460.3 623.7 L1476.1 632.8 L1491.8 641.4 L1507.5 650.3 L1523.2 653.3 L1538.9 658.3 L1554.6 658.8 L1570.3 659.1 L1586.0 664.2 L1601.8 669.2 L1617.5 670.2 L1633.2 671.5 L1648.9 674.6" fill="none" stroke="#ff7f0e" stroke-width="2.3" stroke-linejoin="round" stroke-linecap="square"/>
<path d="M564.8 361.4 L580.5 363.5 L596.2 365.8 L611.9 366.3 L627.6 367.9 L643.3 368.4 L659.0 365.2 L674.7 363.1 L690.5 362.1 L706.2 360.6 L721.9 357.0 L737.6 352.6 L753.3 351.0 L769.0 348.6 L784.7 348.9 L800.4 350.9 L816.1 352.1 L831.9 351.0 L847.6 352.4 L863.3 352.8 L879.0 354.8 L894.7 355.0 L910.4 356.0 L926.1 356.5 L941.8 354.4 L957.6 352.7 L973.3 351.5 L989.0 349.7 L1004.7 349.5 L1020.4 348.0 L1036.1 348.6 L1051.8 350.6 L1067.5 353.4 L1083.3 362.7 L1099.0 372.3 L1114.7 382.5 L1130.4 392.1 L1146.1 401.3 L1161.8 410.5 L1177.5 421.1 L1193.2 433.2 L1209.0 444.4 L1224.7 453.8 L1240.4 463.2 L1256.1 472.5 L1271.8 480.5 L1287.5 487.7 L1303.2 494.9 L1318.9 500.9 L1334.7 506.9 L1350.4 512.8 L1366.1 519.9 L1381.8 526.2 L1397.5 533.7 L1413.2 542.4 L1428.9 551.3 L1444.6 560.3 L1460.3 570.5 L1476.1 580.9 L1491.8 591.6 L1507.5 601.3 L1523.2 610.0 L1538.9 618.1 L1554.6 619.4 L1570.3 620.6 L1586.0 624.1 L1601.8 628.9 L1617.5 633.3 L1633.2 637.2 L1648.9 640.3" fill="none" stroke="#2ca02c" stroke-width="2.3" stroke-linejoin="round" stroke-linecap="square"/>
<path d="M1036.1 355.0 L1051.8 357.0 L1067.5 359.6 L1083.3 364.5 L1099.0 370.1 L1114.7 375.5 L1130.4 378.7 L1146.1 382.2 L1161.8 386.3 L1177.5 390.8 L1193.2 395.1 L1209.0 398.5 L1224.7 402.4 L1240.4 405.9 L1256.1 410.7 L1271.8 415.7 L1287.5 419.9 L1303.2 423.0 L1318.9 426.6 L1334.7 429.9 L1350.4 433.8 L1366.1 437.4 L1381.8 441.1 L1397.5 445.1 L1413.2 448.4 L1428.9 452.0 L1444.6 455.9 L1460.3 460.1 L1476.1 465.2 L1491.8 469.8 L1507.5 474.9 L1523.2 480.3 L1538.9 485.8 L1554.6 491.1 L1570.3 496.5 L1586.0 503.3 L1601.8 510.5 L1617.5 517.3 L1633.2 523.9 L1648.9 530.7" fill="none" stroke="#d62728" stroke-width="2.3" stroke-linejoin="round" stroke-linecap="square"/>
<g stroke="#808080" stroke-width="1.667" fill="none">
<path d="M1743.0 284h7"/>
<path d="M1743.0 425h7"/>
<path d="M1743.0 567h7"/>
<path d="M1743.0 709h7"/>
<path d="M1743.0 874h7"/>
<path d="M1743.0 952h7"/>
<path d="M1743.0 1030h7"/>
<path d="M109 1105.9v7.3"/>
<path d="M423 1105.9v7.3"/>
<path d="M738 1105.9v7.3"/>
<path d="M1052 1105.9v7.3"/>
<path d="M1366 1105.9v7.3"/>
<path d="M1680 1105.9v7.3"/>
</g>
<g fill="#808080" font-size="20.83px">
<text x="1757.9" y="293.4" letter-spacing="-0.3">0.25</text>
<text x="1757.9" y="434.4" letter-spacing="-0.3">0.20</text>
<text x="1757.9" y="576.4" letter-spacing="-0.3">0.15</text>
<text x="1757.9" y="718.4" letter-spacing="-0.3">0.10</text>
<text x="1757.9" y="883.4" letter-spacing="-0.6">30</text>
<text x="1757.9" y="961.4" letter-spacing="-0.6">20</text>
<text x="1757.9" y="1039.4" letter-spacing="-0.6">10</text>
<text transform="translate(106.6 1153.5) rotate(-45)" text-anchor="middle" y="7.6">Aug 09</text>
<text transform="translate(420.9 1153.5) rotate(-45)" text-anchor="middle" y="7.6">Aug 29</text>
<text transform="translate(735.1 1153.5) rotate(-45)" text-anchor="middle" y="7.6">Sep 18</text>
<text transform="translate(1050.3 1152.3) rotate(-45)" text-anchor="middle" y="7.6">Oct 08</text>
<text transform="translate(1364.6 1152.3) rotate(-45)" text-anchor="middle" y="7.6">Oct 28</text>
</g>
<g fill="#000000" font-size="20.83px">
<text transform="translate(1829 502) rotate(-90)" text-anchor="middle">Price</text>
<text transform="translate(1811.3 1037.5) rotate(-90)" letter-spacing="0.52">Volume</text>
<text transform="translate(1811.3 945.4) rotate(-90)">10</text>
<text transform="translate(1803.0 918.0) rotate(-90) scale(1.05 1.2)" font-size="14.58px">6</text>
</g>
<text x="782.6" y="34.1" font-size="25px" text-anchor="middle" fill="#000000">PNUT  2025-11-16  price</text>
</svg>
</body>
</html>
